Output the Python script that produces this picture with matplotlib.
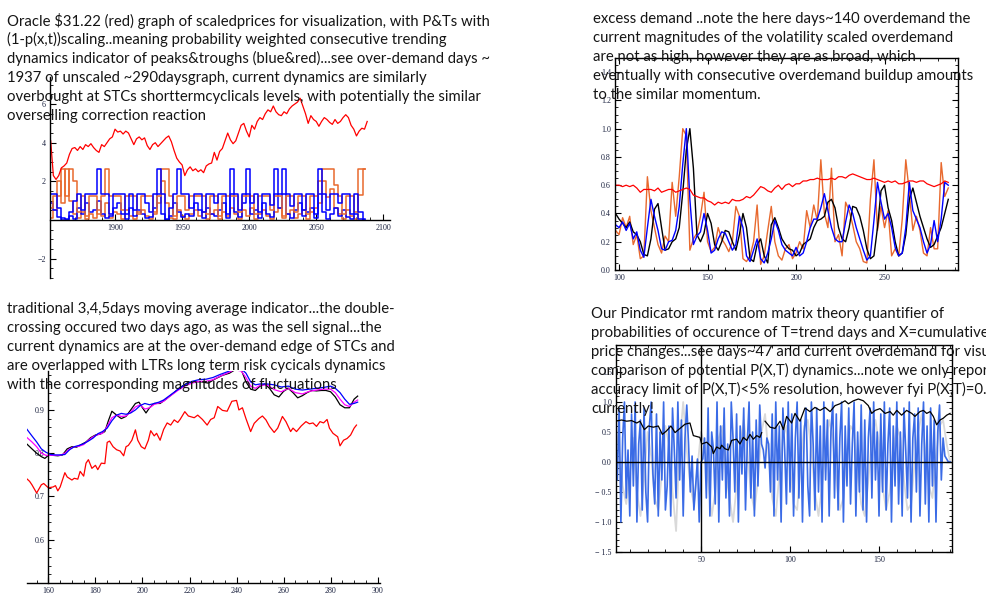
import numpy as np
import matplotlib
matplotlib.use("Agg")
import matplotlib.pyplot as plt
from matplotlib.ticker import MultipleLocator, FormatStrFormatter

# ---------------- panel 1: scaled price + peaks & troughs ----------------
p1_price = [4.1, 2.3, 2.1, 2.3, 2.7, 2.8, 2.95, 3.4, 3.7, 3.75, 3.6, 3.8, 3.65, 3.9, 3.8, 3.95,
            3.75, 3.6, 3.5, 3.9, 3.8, 4.0, 4.2, 4.3, 4.7, 4.55, 4.6, 4.45, 4.6, 4.5, 4.2, 3.9,
            4.2, 4.3, 4.15, 4.25, 3.85, 3.65, 3.9, 4.0, 3.8, 3.95, 4.1, 4.25, 4.35, 4.05, 3.6,
            3.2, 3.0, 2.85, 2.3, 2.6, 2.75, 2.55, 2.65, 2.5, 2.6, 2.45, 2.8, 2.9, 2.95, 3.5,
            3.1, 3.55, 3.7, 4.1, 4.5, 4.15, 3.95, 4.1, 4.5, 4.9, 5.0, 4.6, 4.3, 4.9, 4.7, 5.1,
            5.3, 5.2, 5.5, 5.7, 5.6, 5.9, 5.6, 5.45, 5.4, 5.6, 5.5, 5.75, 5.9, 6.0, 6.1, 6.3,
            5.9, 5.5, 5.0, 5.4, 5.2, 5.1, 4.85, 5.1, 5.3, 5.2, 5.05, 4.95, 5.2, 5.0, 5.1, 5.3,
            5.45, 5.3, 4.9, 4.7, 4.35, 4.6, 4.75, 4.7, 5.1]
p1_blue_a = [1.35, 1.35, 0.6, 0.1, 0.05, 0.4, 1.0, 1.35, 0.5, 1.35, 1.35, 1.35, 2.65, 1.35, 1.35,
             0.3, 1.35, 1.35, 1.35, 0.3, 1.35, 0.5, 1.35, 1.35, 0.9, 0.4, 1.35, 2.65, 1.35, 0.05,
             0.6, 1.35, 2.65, 1.35, 1.35, 0.6, 1.35, 1.35, 0.4, 1.35, 1.35, 0.9, 1.35, 1.35, 0.3,
             2.65, 1.35, 0.5, 1.35, 2.65, 0.9, 1.35, 0.4, 1.35, 1.35, 0.8, 2.65, 1.35, 2.65, 1.35,
             0.7, 1.35, 1.35, 0.5, 1.35, 1.35, 0.3, 2.65, 1.35, 0.5, 1.35, 1.35, 0.9, 1.35, 1.35,
             0.3, 1.35, 0.4, 0.05]
p1_blue_b = [0.9, 0.5, 0.15, 0.0, 0.0, 0.2, 0.05, 0.6, 0.3, 0.9, 0.4, 0.5, 1.0, 0.3, 0.1, 0.2,
             0.6, 0.9, 0.3, 0.05, 0.6, 0.2, 0.5, 0.3, 0.1, 0.15, 0.6, 1.35, 0.3, 0.0, 0.2, 0.9,
             0.4, 0.15, 0.3, 0.2, 0.9, 0.5, 0.1, 0.6, 0.3, 0.2, 0.5, 0.9, 0.1, 1.35, 0.4, 0.15,
             0.9, 1.35, 0.3, 0.5, 0.1, 0.9, 0.3, 0.15, 1.35, 0.6, 1.35, 0.3, 0.1, 0.5, 0.9, 0.2,
             0.4, 0.6, 0.1, 1.35, 0.4, 0.05, 0.3, 0.6, 0.2, 0.5, 0.15, 0.05, 0.3, 0.05, 0.0]
p1_orange_a = [0.6, 1.25, 1.25, 2.65, 1.25, 2.65, 2.0, 0.4, 1.25, 0.2, 1.25, 1.25, 0.3, 1.25, 2.65,
               1.25, 1.25, 1.25, 0.5, 1.25, 1.25, 1.25, 0.3, 1.25, 1.25, 1.25, 0.4, 1.25, 2.65, 2.65,
               1.25, 0.2, 1.25, 1.25, 0.5, 1.25, 1.25, 1.25, 1.25, 0.3, 1.25, 1.25, 0.2, 1.25, 1.25,
               1.25, 1.25, 0.4, 1.25, 1.25, 1.25, 0.3, 1.25, 1.25, 1.25, 0.5, 1.25, 1.25, 0.2, 1.25,
               1.25, 0.4, 1.25, 1.25, 0.3, 1.25, 1.25, 2.0, 2.65, 2.65, 2.65, 1.8, 1.25, 0.3, 1.25,
               1.25, 0.4, 2.65, 2.65]
p1_orange_b = [0.1, 0.5, 2.0, 0.9, 2.65, 1.0, 0.3, 0.1, 0.4, 0.05, 0.3, 0.1, 0.5, 0.2, 0.9, 0.1,
               0.4, 0.3, 0.05, 0.5, 0.2, 0.05, 0.4, 0.5, 0.2, 0.05, 0.3, 0.9, 2.0, 0.9, 0.1, 0.05,
               0.5, 0.2, 0.05, 0.3, 0.5, 0.2, 0.4, 0.05, 0.3, 0.5, 0.05, 0.4, 0.2, 0.6, 0.3, 0.05,
               0.5, 0.2, 0.6, 0.05, 0.3, 0.5, 0.2, 0.05, 0.4, 0.6, 0.1, 0.3, 0.5, 0.1, 0.3, 0.5,
               0.05, 0.4, 0.6, 0.9, 2.0, 1.2, 1.6, 0.6, 0.3, 0.05, 0.5, 0.2, 0.05, 1.3, 2.65]

# ---------------- panel 2: volatility scaled overdemand ----------------
p2_red = [0.60, 0.60, 0.59, 0.60, 0.59, 0.60, 0.58, 0.55, 0.57, 0.57, 0.57, 0.56, 0.58, 0.55, 0.56,
          0.57, 0.57, 0.55, 0.56, 0.57, 0.58, 0.57, 0.53, 0.52, 0.51, 0.51, 0.49, 0.48, 0.46, 0.48,
          0.47, 0.48, 0.47, 0.50, 0.49, 0.49, 0.50, 0.52, 0.51, 0.53, 0.56, 0.59, 0.58, 0.56, 0.55,
          0.58, 0.60, 0.57, 0.60, 0.61, 0.59, 0.61, 0.61, 0.63, 0.63, 0.64, 0.64, 0.65, 0.64, 0.64,
          0.64, 0.65, 0.64, 0.66, 0.66, 0.65, 0.67, 0.68, 0.67, 0.66, 0.65, 0.64, 0.64, 0.65, 0.64,
          0.63, 0.62, 0.63, 0.62, 0.63, 0.61, 0.61, 0.62, 0.63, 0.63, 0.62, 0.63, 0.63, 0.61, 0.60,
          0.59, 0.60, 0.61, 0.63, 0.62]
p2_blue = [0.32, 0.30, 0.34, 0.28, 0.33, 0.22, 0.27, 0.14, 0.09, 0.30, 0.50, 0.38, 0.28, 0.15, 0.14,
           0.20, 0.21, 0.28, 0.45, 0.75, 1.00, 0.50, 0.18, 0.24, 0.27, 0.40, 0.28, 0.12, 0.14, 0.22,
           0.27, 0.26, 0.20, 0.14, 0.18, 0.38, 0.30, 0.10, 0.06, 0.14, 0.22, 0.08, 0.05, 0.12, 0.22,
           0.35, 0.28, 0.18, 0.14, 0.12, 0.10, 0.16, 0.10, 0.12, 0.20, 0.30, 0.36, 0.36, 0.44, 0.54,
           0.42, 0.30, 0.22, 0.20, 0.20, 0.34, 0.46, 0.40, 0.30, 0.22, 0.14, 0.07, 0.10, 0.35, 0.62,
           0.48, 0.36, 0.40, 0.30, 0.16, 0.10, 0.12, 0.30, 0.62, 0.42, 0.36, 0.30, 0.20, 0.12, 0.18,
           0.35, 0.20, 0.36, 0.62, 0.60]
p2_orange = [0.28, 0.25, 0.37, 0.30, 0.38, 0.18, 0.25, 0.08, 0.10, 0.66, 0.42, 0.30, 0.18, 0.12, 0.24,
             0.20, 0.62, 0.38, 0.66, 1.00, 0.95, 0.14, 0.22, 0.26, 0.38, 0.55, 0.20, 0.13, 0.16, 0.30,
             0.22, 0.18, 0.13, 0.20, 0.45, 0.38, 0.08, 0.06, 0.10, 0.20, 0.46, 0.04, 0.10, 0.28, 0.45,
             0.20, 0.10, 0.07, 0.15, 0.18, 0.08, 0.12, 0.20, 0.15, 0.42, 0.30, 0.46, 0.35, 0.78, 0.40,
             0.30, 0.72, 0.20, 0.25, 0.10, 0.48, 0.42, 0.32, 0.20, 0.15, 0.06, 0.05, 0.50, 0.78, 0.28,
             0.45, 0.30, 0.42, 0.10, 0.15, 0.10, 0.36, 0.78, 0.55, 0.28, 0.38, 0.28, 0.12, 0.10, 0.30,
             0.15, 0.15, 0.76, 0.52, 0.58]
p2_black = [0.40, 0.36, 0.33, 0.30, 0.34, 0.27, 0.25, 0.20, 0.11, 0.10, 0.22, 0.43, 0.47, 0.30, 0.14,
            0.15, 0.20, 0.22, 0.30, 0.55, 0.85, 1.00, 0.72, 0.25, 0.20, 0.26, 0.40, 0.33, 0.18, 0.14,
            0.20, 0.28, 0.27, 0.20, 0.14, 0.25, 0.40, 0.30, 0.08, 0.06, 0.18, 0.22, 0.10, 0.05, 0.32,
            0.37, 0.30, 0.22, 0.18, 0.15, 0.14, 0.10, 0.12, 0.18, 0.20, 0.22, 0.30, 0.35, 0.36, 0.38,
            0.48, 0.50, 0.44, 0.30, 0.22, 0.20, 0.30, 0.45, 0.44, 0.38, 0.28, 0.15, 0.08, 0.10, 0.30,
            0.56, 0.60, 0.44, 0.35, 0.20, 0.10, 0.12, 0.25, 0.50, 0.58, 0.48, 0.38, 0.30, 0.22, 0.16,
            0.18, 0.24, 0.30, 0.40, 0.50]

# ---------------- panel 3: 3,4,5 days moving averages ----------------
p3_red_days = [151, 152, 153, 155, 157, 158, 160, 162, 163, 164, 165, 167, 168, 170, 171, 172.5, 173.5,
               175, 176, 177, 178.5, 180, 181, 182.5, 184, 185, 186, 187.5, 189, 190.5, 192, 193, 194,
               195.5, 197, 198, 199.5, 201, 202.5, 203.5, 205, 206, 207.5, 209, 210.5, 212, 213.5, 215,
               216, 218, 219.5, 222, 223.5, 225.5, 227.5, 229, 230.5, 232, 234, 236, 238, 240, 241,
               242.5, 244, 246, 247.5, 249.5, 251, 252.5, 254, 256, 257.5, 259.5, 261, 263, 264, 265.5,
               267.5, 269.5, 271, 272.5, 274, 275.5, 277, 278.5, 279.5, 281, 283, 284, 285.5, 287,
               288.5, 290, 291]
p3_red = [0.74, 0.735, 0.727, 0.708, 0.727, 0.73, 0.72, 0.722, 0.725, 0.713, 0.722, 0.755, 0.745, 0.738,
          0.742, 0.74, 0.758, 0.747, 0.777, 0.785, 0.765, 0.772, 0.762, 0.777, 0.776, 0.825, 0.828, 0.815,
          0.808, 0.805, 0.794, 0.815, 0.818, 0.83, 0.854, 0.83, 0.815, 0.81, 0.83, 0.852, 0.84, 0.846, 0.83,
          0.855, 0.87, 0.865, 0.877, 0.871, 0.878, 0.896, 0.886, 0.882, 0.888, 0.878, 0.865, 0.878, 0.882,
          0.908, 0.899, 0.897, 0.92, 0.922, 0.9, 0.905, 0.88, 0.85, 0.869, 0.88, 0.886, 0.877, 0.862, 0.848,
          0.858, 0.885, 0.873, 0.85, 0.858, 0.85, 0.863, 0.873, 0.868, 0.87, 0.862, 0.873, 0.87, 0.878,
          0.858, 0.846, 0.838, 0.817, 0.83, 0.834, 0.842, 0.858, 0.865]
p3_black_days = [150.5, 153, 155, 157, 158.5, 160, 162, 164, 166, 168, 170, 172, 174, 176, 178, 180, 182,
                 184, 185.5, 187, 189, 191, 193, 195, 197, 198.5, 200, 201.5, 203, 205, 207.5, 210, 213,
                 216, 219, 222, 225, 228, 231, 234, 237, 240, 242, 244, 246, 248, 250, 252, 254, 256, 258,
                 260, 262, 264, 266, 268, 270, 272, 274, 276, 278, 280, 282, 284, 286, 288, 290, 291.5]
p3_black = [0.823, 0.81, 0.80, 0.792, 0.788, 0.795, 0.795, 0.794, 0.796, 0.81, 0.815, 0.814, 0.82, 0.826,
            0.836, 0.842, 0.844, 0.85, 0.875, 0.897, 0.888, 0.88, 0.885, 0.9, 0.915, 0.918, 0.905, 0.893,
            0.905, 0.915, 0.915, 0.925, 0.938, 0.952, 0.962, 0.965, 0.965, 0.962, 0.972, 0.98, 0.985,
            0.995, 0.993, 0.965, 0.948, 0.945, 0.955, 0.96, 0.95, 0.935, 0.93, 0.943, 0.95, 0.94, 0.928,
            0.933, 0.94, 0.945, 0.944, 0.945, 0.945, 0.942, 0.93, 0.912, 0.905, 0.905, 0.925, 0.932]
p3_ma_days = [150.5, 153, 155, 157, 159, 161, 163, 165, 167, 169, 171, 173, 175, 177, 179, 181, 183, 185,
              187, 189, 191, 193, 195, 197, 199, 201, 203, 205, 207, 209, 212, 215, 218, 221, 224, 227,
              230, 233, 236, 239, 242, 244, 246, 248, 250, 253, 256, 259, 262, 265, 268, 271, 274, 277,
              280, 282, 284, 286, 288, 290, 291.5]
p3_magenta = [0.838, 0.826, 0.815, 0.8, 0.795, 0.795, 0.795, 0.795, 0.8, 0.81, 0.815, 0.816, 0.82, 0.83,
              0.838, 0.843, 0.846, 0.862, 0.882, 0.888, 0.885, 0.886, 0.895, 0.907, 0.912, 0.902, 0.905,
              0.913, 0.916, 0.92, 0.933, 0.945, 0.955, 0.962, 0.966, 0.966, 0.97, 0.978, 0.985, 0.993,
              0.99, 0.975, 0.955, 0.95, 0.957, 0.958, 0.947, 0.942, 0.95, 0.94, 0.937, 0.943, 0.946, 0.948,
              0.948, 0.94, 0.925, 0.912, 0.908, 0.918, 0.923]
p3_blue = [0.858, 0.84, 0.826, 0.81, 0.802, 0.797, 0.796, 0.796, 0.797, 0.808, 0.815, 0.818, 0.822, 0.828,
           0.835, 0.845, 0.85, 0.858, 0.875, 0.888, 0.892, 0.89, 0.893, 0.9, 0.91, 0.915, 0.912, 0.915,
           0.918, 0.923, 0.935, 0.947, 0.958, 0.966, 0.97, 0.971, 0.975, 0.982, 0.988, 0.995, 0.995,
           0.985, 0.965, 0.958, 0.96, 0.96, 0.958, 0.953, 0.955, 0.948, 0.946, 0.948, 0.95, 0.952, 0.955,
           0.95, 0.94, 0.925, 0.913, 0.915, 0.918]

# ---------------- panel 4: P(X,T) quantifier ----------------
p4_blue = [0.5, -0.3, 0.9, -1.0, 0.4, 1.0, -0.6, 0.2, -0.9, 0.8,
           -0.4, 1.0, -1.0, 0.3, 0.7, -0.8, 0.9, -0.5, -1.0, 0.6,
           1.0, -0.2, -0.7, 0.8, -0.9, 0.5, -0.3, 1.0, -0.8, -0.4,
           0.6, -0.9, 0.9, 0.2, -0.6, 1.0, -0.3, 0.7, -0.9, 0.4,
           0.95, 0.3, -0.5, 0.1, -0.8, -0.4, 0.05, -1.0, 0.0, 0.05,
           0.4, -0.6, 0.9, -0.9, 0.5, 0.2, -0.7, 1.0, -1.0, 0.6,
           -0.3, 0.9, -0.6, 0.3, -0.9, 1.0, 0.4, -0.5, 0.8, -1.0,
           0.6, -0.2, 0.9, -0.8, 0.3, 1.0, -0.6, 0.5, -0.9, 0.7,
           -0.4, 0.95, 0.3, 0.2, -0.1, 0.4, 0.3, -0.5, 0.8, -0.9,
           1.0, -0.3, 0.6, -1.0, 0.9, 0.2, -0.7, 1.0, -0.5, 0.8,
           -0.9, 0.4, 1.0, -0.6, 0.7, -1.0, 0.5, 0.9, -0.4, -0.9,
           1.0, 0.3, -0.8, 0.9, -0.5, 0.6, -1.0, 1.0, -0.3, 0.7,
           -0.9, 0.5, 1.0, -0.6, 0.8, -0.8, 0.4, 1.0, -1.0, 0.6,
           -0.4, 0.9, -0.7, 0.3, 1.0, -0.9, 0.5, -0.5, 0.95, -0.8,
           0.7, -1.0, 0.4, 0.9, -0.6, 1.0, -0.3, 0.5, -0.9, 0.8,
           -0.5, 1.0, -0.8, 0.3, 0.9, -1.0, 0.6, -0.4, 1.0, -0.7,
           0.5, -0.9, 0.9, 0.2, -0.6, 1.0, -1.0, 0.4, 0.8, -0.5,
           0.9, -0.9, 0.3, 1.0, -0.7, 0.6, -1.0, 0.9, -0.4, 0.7,
           -1.0, 0.5, 0.95, -0.3, 0.4, 0.1, 0.05, 0.0, 0.0]
p4_gray = [0.6, 0.2, -0.4, -0.7, -0.2, 0.4, -0.5, -0.9, -0.3, 0.5,
           0.1, -0.6, -0.8, -0.2, 0.6, 0.3, -0.5, -1.15, 0.3, 1.0,
           0.2, -0.4, -0.7, -0.1, 0.5, 0.3, -0.3, -0.9, -0.5, 0.4,
           0.6, -0.2, -0.6, -1.0, -0.4, 0.3, 0.7, 0.2, -0.5, -0.8,
           -0.3, 0.5, 0.8, 0.1, -0.6, -0.9, -0.2, 0.4, 0.6, -0.1,
           -0.7, -0.8, 0.0, 0.6, 0.7, 0.2, -0.5, -0.9, -0.4, 0.3,
           0.7, 0.4, -0.3, -0.8, -0.6, 0.2, 0.6, 0.5, -0.2, -0.7,
           -0.9, -0.3, 0.4, 0.7, 0.3, -0.4, -0.8, -0.5, 0.2, 0.6,
           0.4, -0.3, -0.8, -0.7, 0.0, 0.5, 0.8, 0.2, -0.4, -0.6,
           0.1, 0.6, 0.7, 0.3, 0.0]
p4_black_days = [2, 5.4, 8.2, 11, 13.9, 15.7, 18.2, 20.4, 23.2, 26, 28.3, 30.7, 33.1, 35.4, 38.2, 41,
                 43.8, 45.7, 49.4, 50.4, 53.2, 56, 56.9, 58.8, 60.7, 61.6, 63.5, 65.4, 67.2, 70, 71.9,
                 73.8, 75.7, 77.5, 79.4, 81.3, 83.1, 84.1]
p4_black = [0.68, 0.7, 0.68, 0.69, 0.65, 0.68, 0.54, 0.6, 0.58, 0.6, 0.46, 0.52, 0.6, 0.49, 0.56, 0.63,
            0.65, 0.44, 0.41, 0.3, 0.33, 0.25, 0.14, 0.25, 0.22, 0.28, 0.22, 0.2, 0.36, 0.38, 0.3, 0.41,
            0.36, 0.46, 0.38, 0.44, 0.41, 0.49]
p4_black2_days = [86, 88.8, 91.6, 94.4, 96.3, 98.1, 100.9, 102.8, 105.6, 108.4, 111.2, 114, 116.9, 119.7,
                  122.5, 125.3, 128, 130.9, 132.8, 135.6, 138.4, 141.2, 144, 145.9, 147.8, 150.6, 153.4,
                  156.2, 158, 160, 162.7, 165.5, 168.4, 170.2, 173, 174.9, 176.8, 178.7, 180.5, 182.4,
                  184.3, 186.1, 188, 189.9]
p4_black2 = [0.68, 0.58, 0.56, 0.68, 0.54, 0.76, 0.65, 0.81, 0.68, 0.9, 0.84, 0.91, 0.86, 0.91, 0.84,
             0.94, 0.97, 1.02, 0.97, 1.02, 1.05, 1.02, 0.94, 0.81, 0.86, 0.89, 0.81, 0.84, 0.78, 0.86,
             0.78, 0.86, 0.81, 0.76, 0.84, 0.86, 0.81, 0.84, 0.76, 0.62, 0.70, 0.73, 0.78, 0.81]

text1 = ["Oracle $31.22 (red) graph of scaledprices for visualization, with P&Ts with",
         "(1-p(x,t))scaling..meaning probability weighted consecutive trending",
         "dynamics indicator of peaks&troughs (blue&red)...see over-demand days ~",
         "1937 of unscaled ~290daysgraph, current dynamics are similarly",
         "overbought at STCs shorttermcyclicals levels, with potentially the similar",
         "overselling correction reaction"]
text2 = ["excess demand ..note the here days~140 overdemand the",
         "current magnitudes of the volatility scaled overdemand",
         "are not as high, however they are as broad, which",
         "eventually with consecutive overdemand buildup amounts",
         "to the similar momentum."]
text3 = ["traditional 3,4,5days moving average indicator...the double-",
         "crossing occured two days ago, as was the sell signal...the",
         "current dynamics are at the over-demand edge of STCs and",
         "are overlapped with LTRs long term risk cycicals dynamics",
         "with the corresponding magnitudes of fluctuations"]
text4 = ["Our Pindicator rmt random matrix theory quantifier of",
         "probabilities of occurence of T=trend days and X=cumulative",
         "price changes...see days~47 and current overdemand for visual",
         "comparison of potential P(X,T) dynamics...note we only report",
         "accuracy limit of P(X,T)<5% resolution, however fyi P(X,T)=0.2",
         "currently!"]

RED = "#ff0000"
BLUE = "#0000ff"
ORANGE = "#e8692e"
TICKC = "#1c2340"
W, H = 987, 597

fig = plt.figure(figsize=(W / 100, H / 100), dpi=100)
fig.patch.set_facecolor("white")


def box(x0, y0, x1, y1):
    return fig.add_axes([x0 / W, 1 - y1 / H, (x1 - x0) / W, (y1 - y0) / H])


def style(ax, frame):
    ax.set_facecolor("none")
    for s in ax.spines.values():
        s.set_linewidth(1.0)
        s.set_color("black")
    if not frame:
        ax.spines["top"].set_visible(False)
        ax.spines["right"].set_visible(False)
    ax.tick_params(which="both", direction="in", labelsize=5.8, labelcolor=TICKC,
                   top=frame, right=frame, pad=3)
    ax.tick_params(which="major", length=4, width=0.8)
    ax.tick_params(which="minor", length=2, width=0.6)
    for lab in ax.get_xticklabels() + ax.get_yticklabels():
        lab.set_family("Liberation Serif")


# panel 1
ax1 = box(50, 77, 390, 278)
yrs3 = 1852 + 3 * np.arange(len(p1_blue_a))
ax1.plot(yrs3, p1_orange_b, color=ORANGE, lw=1.1, drawstyle="steps-mid")
ax1.plot(yrs3, p1_blue_b, color=BLUE, lw=1.1, drawstyle="steps-mid")
ax1.plot(yrs3, p1_orange_a, color=ORANGE, lw=1.1, drawstyle="steps-mid")
ax1.plot(yrs3, p1_blue_a, color=BLUE, lw=1.1, drawstyle="steps-mid")
ax1.plot(1852 + 2 * np.arange(len(p1_price)), p1_price, color=RED, lw=0.9)
ax1.set_xlim(1851.5, 2105)
ax1.set_ylim(-3.0, 7.4)
ax1.spines["bottom"].set_position(("data", 0))
ax1.set_xticks([1900, 1950, 2000, 2050, 2100])
ax1.xaxis.set_minor_locator(MultipleLocator(10))
ax1.set_yticks([-2, 2, 4, 6])
ax1.yaxis.set_minor_locator(MultipleLocator(0.5))
style(ax1, False)

# panel 2
ax2 = box(615, 58, 958, 270)
d2 = 98 + 2 * np.arange(len(p2_red))
ax2.plot(d2, p2_orange, color=ORANGE, lw=1.0)
ax2.plot(d2, p2_black, color="black", lw=1.0)
ax2.plot(d2, p2_blue, color=BLUE, lw=1.0)
ax2.plot(d2, p2_red, color=RED, lw=0.9)
ax2.set_xlim(97.7, 291.5)
ax2.set_ylim(0, 1.5)
ax2.set_xticks([100, 150, 200, 250])
ax2.xaxis.set_minor_locator(MultipleLocator(10))
ax2.set_yticks(np.arange(0, 1.41, 0.2))
ax2.yaxis.set_major_formatter(FormatStrFormatter("%.1f"))
ax2.yaxis.set_minor_locator(MultipleLocator(0.05))
style(ax2, True)

# panel 3
ax3 = box(27, 371, 380, 583)
ax3.plot(p3_red_days, p3_red, color=RED, lw=0.9)
ax3.plot(p3_black_days, p3_black, color="black", lw=0.9)
ax3.plot(p3_ma_days, p3_magenta, color="#ff00ff", lw=0.9)
ax3.plot(p3_ma_days, p3_blue, color=BLUE, lw=0.9)
ax3.set_xlim(150.9, 301)
ax3.set_ylim(0.5, 0.99)
ax3.spines["left"].set_position(("data", 160))
ax3.set_xticks(np.arange(160, 301, 20))
ax3.xaxis.set_minor_locator(MultipleLocator(5))
ax3.set_yticks([0.6, 0.7, 0.8, 0.9])
ax3.yaxis.set_minor_locator(MultipleLocator(0.02))
style(ax3, False)

# panel 4
ax4 = box(616, 345, 952, 552)
ax4.plot(2 + 2 * np.arange(len(p4_gray)), p4_gray, color="#d9d9d9", lw=1.3)
ax4.plot(2 + np.arange(len(p4_blue)), p4_blue, color="#3a6be6", lw=1.2)
ax4.plot(p4_black_days, p4_black, color="black", lw=0.9)
ax4.plot(p4_black2_days, p4_black2, color="black", lw=0.9)
ax4.axhline(0, color="black", lw=1.0)
ax4.axvline(50, color="black", lw=1.0)
ax4.set_xlim(2.25, 191)
ax4.set_ylim(-1.5, 1.95)
ax4.set_xticks([50, 100, 150])
ax4.xaxis.set_minor_locator(MultipleLocator(10))
ax4.set_yticks(np.arange(-1.5, 1.51, 0.5))
ax4.set_yticklabels(["\u2212 1.5", "\u2212 1.0", "\u2212 0.5", "0.0", "0.5", "1.0", "1.5"])
ax4.yaxis.set_minor_locator(MultipleLocator(0.1))
style(ax4, True)

# paragraphs over the plots
paras = [(text1, 7, 20.7), (text2, 593, 19.3), (text3, 7, 309), (text4, 591, 313.7)]
for lines, x0, y0 in paras:
    for i, line in enumerate(lines):
        fig.text(x0 / W, 1 - (y0 + i * 19.0) / H, line, family="Lato", fontsize=10.7,
                 color="#151515", va="center", ha="left", zorder=10)

fig.savefig("out.png", dpi=100)
